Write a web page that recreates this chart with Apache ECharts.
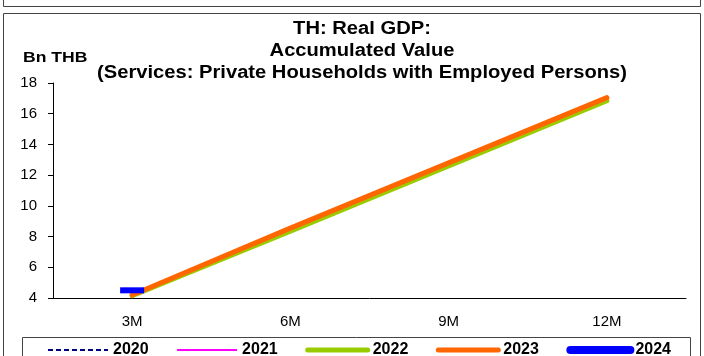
<!DOCTYPE html>
<html>
<head>
<meta charset="utf-8">
<script src="https://cdn.jsdelivr.net/npm/echarts@6/dist/echarts.min.js"></script>
<style>
  html, body { margin: 0; padding: 0; background: #fff; }
  #chart { width: 704px; height: 356px; }
</style>
</head>
<body>
<div id="chart"></div>
<script>
// data
const categories = ['3M', '6M', '9M', '12M'];
const s2020 = [4.15, 8.4, 12.6, 16.85];
const s2021 = [4.15, 8.4, 12.6, 16.85];
const s2022 = [4.15, 8.35, 12.6, 16.85];
const s2023 = [4.2, 8.55, 12.8, 17.05];
const s2024 = [4.5];
const yTicks = [4, 6, 8, 10, 12, 14, 16, 18];

const chart = echarts.init(document.getElementById('chart'));

const font = "'Liberation Sans', Arial, sans-serif";

chart.setOption({
    animation: false,
    graphic: [
        // frames
        { type: 'polyline', shape: { points: [[3.5, 0], [3.5, 6.5], [700.5, 6.5], [700.5, 0]] }, style: { fill: 'none', stroke: '#444', lineWidth: 1 } },
        { type: 'rect', shape: { x: 3.5, y: 13.5, width: 697, height: 360 }, style: { fill: 'none', stroke: '#444', lineWidth: 1 } },
        { type: 'rect', shape: { x: 22.5, y: 337.5, width: 668, height: 40 }, style: { fill: 'none', stroke: '#444', lineWidth: 1 } },
        // title
        {
            type: 'text', x: 362, y: 18, scaleX: 1.12,
            style: {
                text: 'TH: Real GDP:\nAccumulated Value\n(Services: Private Households with Employed Persons)',
                font: 'bold 18px ' + font, fill: '#000', align: 'center', verticalAlign: 'top', lineHeight: 22
            }
        },
        { type: 'text', x: 23, y: 50, scaleX: 1.17, style: { text: 'Bn THB', font: 'bold 15px ' + font, fill: '#000' } }
    ],
    legend: {
        top: 342,
        left: 47,
        padding: 0,
        itemGap: 27.5,
        itemWidth: 60,
        itemHeight: 14,
        itemStyle: { opacity: 0 },
        lineStyle: { width: 'inherit', type: 'inherit', cap: 'inherit' },
        textStyle: { fontFamily: font, fontSize: 16, fontWeight: 'bold', color: '#000' },
        data: ['2020', '2021', '2022', '2023', '2024']
    },
    grid: { left: 53, right: 18, top: 83, bottom: 58 },
    xAxis: {
        type: 'category',
        data: categories,
        boundaryGap: true,
        axisLine: { lineStyle: { color: '#000' } },
        axisTick: { length: 5, lineStyle: { color: '#000' } },
        axisLabel: { fontFamily: font, fontSize: 15, color: '#000', margin: 16 }
    },
    yAxis: {
        type: 'value',
        min: yTicks[0],
        max: yTicks[yTicks.length - 1],
        interval: 2,
        splitLine: { show: false },
        axisLine: { show: true, lineStyle: { color: '#000' } },
        axisTick: { show: true, length: 5, lineStyle: { color: '#000' } },
        axisLabel: { fontFamily: font, fontSize: 15, color: '#000', margin: 16 }
    },
    series: [
        { name: '2020', type: 'line', data: s2020, symbol: 'none', lineStyle: { color: '#000080', width: 2, type: [5, 3] }, itemStyle: { color: '#000080' } },
        { name: '2021', type: 'line', data: s2021, symbol: 'none', lineStyle: { color: '#ff00ff', width: 2 }, itemStyle: { color: '#ff00ff' } },
        { name: '2022', type: 'line', data: s2022, symbol: 'none', lineStyle: { color: '#99cc00', width: 5, cap: 'round' }, itemStyle: { color: '#99cc00' } },
        { name: '2023', type: 'line', data: s2023, symbol: 'none', lineStyle: { color: '#ff6600', width: 5, cap: 'round' }, itemStyle: { color: '#ff6600' } },
        { name: '2024', type: 'line', data: s2024, symbol: 'rect', symbolSize: [24, 6], showSymbol: true, lineStyle: { color: '#0000ff', width: 8, cap: 'round' }, itemStyle: { color: '#0000ff' } }
    ]
});
</script>
</body>
</html>
